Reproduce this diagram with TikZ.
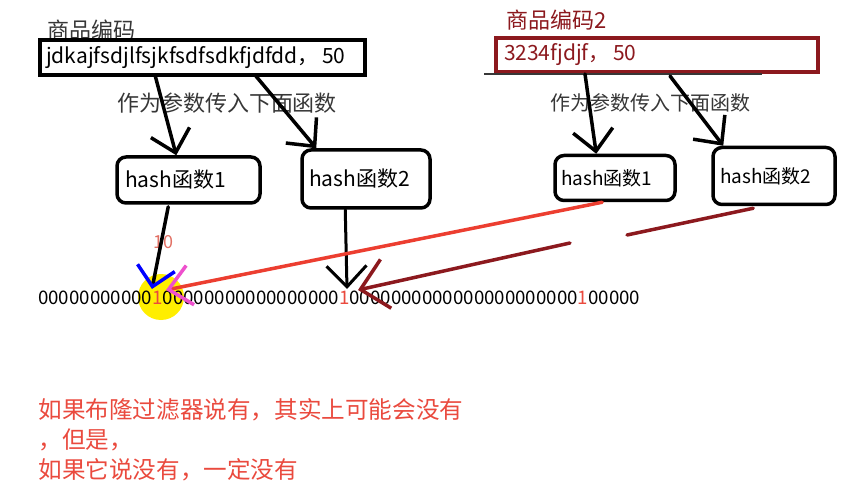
\documentclass[tikz,border=0pt]{standalone}
\usepackage{fontspec}
\setmainfont{Noto Sans CJK SC}
\usetikzlibrary{arrows.meta,calc}
\definecolor{codered}{RGB}{140,25,30}
\definecolor{linered}{RGB}{236,62,48}
\definecolor{notered}{RGB}{234,74,62}
\definecolor{markred}{RGB}{226,112,100}
\definecolor{pinkhead}{RGB}{238,80,205}
\definecolor{inkgray}{RGB}{55,55,55}
\definecolor{spot}{RGB}{255,238,0}
\newcommand{\fs}[1]{\fontsize{#1}{#1}\selectfont}
\newcommand{\hit}{{\color{notered}1}}
\tikzset{
  fnbox/.style={draw,line width=3.5pt,rounded corners=9pt,inner ysep=0pt,align=left},
  hand/.style={line width=3.5pt,line cap=round,-{Straight Barb[length=21pt,width=40pt]}},
  say/.style={anchor=west,notered,font=\fs{23.6}},
}

\begin{document}
\begin{tikzpicture}[x=1pt,y=-1pt]
\useasboundingbox[fill=white] (0,0) rectangle (852,500);

% first goods code
\node[anchor=west,inkgray,font=\fs{22}] (name1) at (44,30) {商品编码};
\node[draw,line width=4pt,minimum height=35pt,text width=313pt,inner xsep=6pt,align=left,font=\fs{21}] (code1) at (202.5,57.5) {jdkajfsdjlfsjkfsdfsdkfjdfdd，\,50};
\node[inkgray,font=\fs{22}] (note1) at (227,103) {作为参数传入下面函数};
\node[fnbox,minimum height=46pt,text width=127pt,inner xsep=8pt,font=\fs{21}] (fn11) at (188.5,180) {hash函数1};
\node[fnbox,minimum height=58pt,text width=114pt,inner xsep=7pt,font=\fs{21}] (fn12) at (366,179) {hash函数2};

% second goods code
\node[anchor=west,codered,font=\fs{22}] (name2) at (503,20) {商品编码2};
\node[draw=codered,line width=4pt,minimum height=34pt,text width=306pt,inner xsep=8pt,align=left,codered,font=\fs{21}] (code2) at (657,55) {3234fjdjf，\,50};
\draw[inkgray,line width=1.2pt] ($(code2.south west)+(-10,0)$) -- ($(code2.south west)+(268,0)$);
\node[inkgray,font=\fs{20}] (note2) at (650,103) {作为参数传入下面函数};
\node[fnbox,minimum height=45pt,text width=108pt,inner xsep=6pt,font=\fs{19}] (fn21) at (615,178) {hash函数1};
\node[fnbox,minimum height=57pt,text width=108pt,inner xsep=7pt,font=\fs{19}] (fn22) at (774,176) {hash函数2};

% bit array
\coordinate (hot) at (161,297);
\fill[spot] (hot) circle (23pt);
\node[anchor=west,inner sep=0pt,font=\fs{18.7}] (bits) at (38,298) {00000000000\hit00000000000000000\hit0000000000000000000000\hit00000};
\node[markred,font=\fs{18}] (ten) at (163,242) {10};

% into the hash functions
\draw[hand] ($(code1.south west)+(117,-2)$) -- ($(fn11.north west)+(61,0)$);
\draw[hand] ($(code1.south west)+(217,-2)$) -- ($(fn12.north west)+(16,0)$);
\draw[hand] ($(code2.south west)+(91,0)$) -- ($(fn21.north west)+(43,0)$);
\draw[hand] ($(code2.south west)+(176,2)$) -- ($(fn22.north west)+(12,0)$);

% onto the bits
\draw[hand,-{Straight Barb[length=19pt,width=38pt,color=blue]}] ($(fn11.south west)+(53,2)$) -- ($(bits.west)+(114,-9)$);
\draw[hand,line width=3pt] ($(fn12.south west)+(45,0)$) -- ($(bits.west)+(309,-9)$);
\draw[hand,linered,-{Straight Barb[length=22pt,width=40pt,color=pinkhead]}] ($(fn21.south west)+(49,0)$) -- ($(bits.west)+(128,-8)$);
\coordinate (gapA) at (627,235);
\coordinate (gapB) at (570,243);
\draw[line width=3.5pt,codered,line cap=round] ($(fn22.south west)+(42,2)$) -- (gapA);
\draw[hand,codered,-{Straight Barb[length=26pt,width=50pt]}] (gapB) -- ($(bits.west)+(320,-8)$);

% conclusion
\node[say] (say1) at (35,410) {如果布隆过滤器说有，其实上可能会没有};
\node[say] (say2) at (35,440) {，但是，};
\node[say] (say3) at (35,470) {如果它说没有，一定没有};
\end{tikzpicture}
\end{document}
